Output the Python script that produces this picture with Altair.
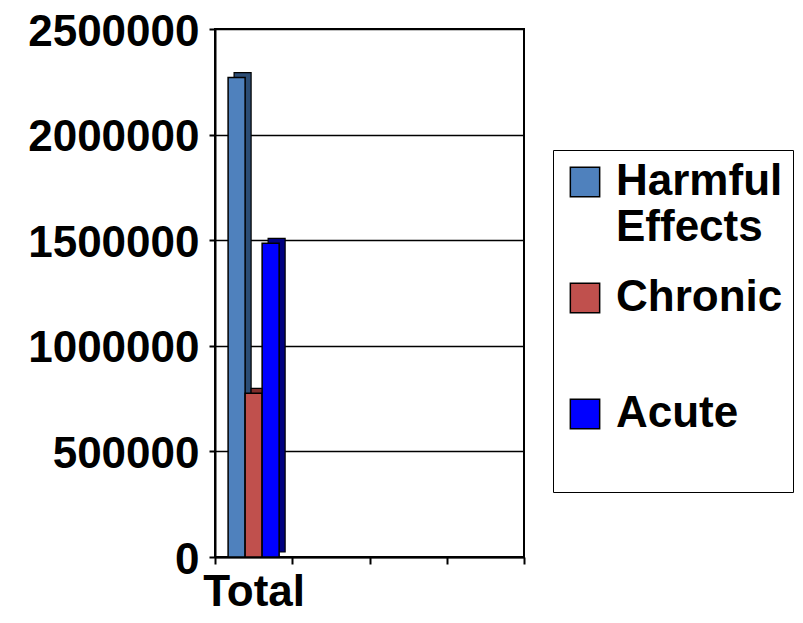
import altair as alt
import pandas as pd

# ---- data ----
x_slots = ["Total", "slot2", "slot3", "slot4"]
category = "Total"
series = ["Harmful Effects", "Chronic", "Acute"]
values = [2270000, 775000, 1485000]
front_colors = ["#4F81BD", "#C0504D", "#0000FF"]
side_colors = ["#2C4D75", "#7F2E2C", "#000080"]
y_ticks = [0, 500000, 1000000, 1500000, 2000000, 2500000]

df = pd.DataFrame({
    "category": [category] * len(series),
    "series": series,
    "value": values,
    "side": side_colors,
})

FONT = "Liberation Sans"
FS = 44

x_enc = alt.X(
    "category:N",
    scale=alt.Scale(domain=x_slots, paddingInner=0, paddingOuter=0),
    axis=alt.Axis(
        title=None,
        labelExpr="datum.value == 'Total' ? 'Total' : ''",
        labelAngle=0,
        tickBand="extent",
        labelFont=FONT, labelFontSize=FS, labelFontWeight="bold", labelColor="black",
        labelPadding=6, tickSize=7, tickColor="black", tickWidth=2,
        domainColor="black", domainWidth=2, grid=False,
    ),
)
y_enc = alt.Y(
    "value:Q",
    scale=alt.Scale(domain=[0, 2500000], nice=False),
    axis=alt.Axis(
        title=None, values=y_ticks, format="d",
        labelFont=FONT, labelFontSize=FS, labelFontWeight="bold", labelColor="black",
        labelPadding=10, labelOffset=3, tickSize=6, tickColor="black", tickWidth=2,
        domainColor="black", domainWidth=2,
        grid=True, gridColor="black", gridWidth=1.5,
    ),
)

# depth faces: same bars, nudged right (via band alignment) and up
side = alt.Chart(df).mark_bar(yOffset=-5, stroke="black", strokeWidth=1.2).encode(
    x=x_enc,
    xOffset=alt.XOffset("series:N", scale=alt.Scale(domain=series, paddingOuter=0.77,
                                                    paddingInner=0, align=0.7286)),
    y=y_enc,
    color=alt.Color("side:N", scale=None),
)

front = alt.Chart(df).mark_bar(stroke="black", strokeWidth=1.5).encode(
    x=x_enc,
    xOffset=alt.XOffset("series:N", scale=alt.Scale(domain=series, paddingOuter=0.77,
                                                    paddingInner=0, align=0.5)),
    y=y_enc,
    color=alt.Color(
        "series:N",
        scale=alt.Scale(domain=series, range=front_colors),
        legend=alt.Legend(
            title=None, orient="none", legendX=338, legendY=121,
            symbolType="square", symbolSize=860, symbolStrokeColor="black",
            symbolStrokeWidth=1.5, symbolOpacity=1,
            labelFont=FONT, labelFontSize=FS, labelFontWeight="bold", labelColor="black",
            labelOffset=9, labelLimit=600,
            labelExpr=(
                "datum.label == 'Harmful Effects' ? ['Harmful', 'Effects'] : "
                "[datum.label, '\u00a0\u00a0\u00a0\u00a0\u00a0\u00a0\u00a0\u00a0\u00a0\u00a0"
                "\u00a0\u00a0\u00a0\u00a0\u00a0\u00a0\u00a0\u00a0']"
            ),
            rowPadding=26, padding=10,
            strokeColor="black", fillColor="white",
        ),
    ),
)

chart = alt.layer(side, front).resolve_scale(xOffset="independent").properties(
    width=309, height=528,
    autosize=alt.AutoSizeParams(type="none"),
    padding={"left": 207, "top": 21, "right": 271, "bottom": 56},
).configure_view(stroke="black", strokeWidth=2)

chart.save("out.html", embed_options={"renderer": "svg", "actions": False})
